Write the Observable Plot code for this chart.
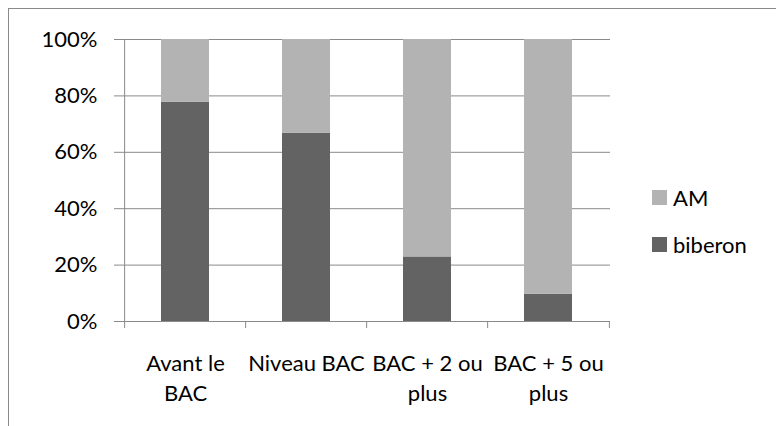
<!DOCTYPE html>
<html><head><meta charset="utf-8">
<script src="https://cdn.jsdelivr.net/npm/d3@7"></script>
<script src="https://cdn.jsdelivr.net/npm/@observablehq/plot@0.6"></script>
<style>
body{margin:0;background:#fff;}
#wrap{position:relative;width:776px;height:426px;overflow:hidden;font-family:Lato,"Open Sans",sans-serif;}
#frame{position:absolute;left:8px;top:8px;width:900px;height:600px;border:1.5px solid #8a8a8a;box-sizing:border-box;pointer-events:none;}
#chart{position:absolute;left:0;top:0;}
#legend{position:absolute;left:652px;top:174px;font-size:22px;color:#000;}
#legend .item{display:flex;align-items:center;height:47px;}
#legend .sw{width:15px;height:15px;margin-right:6px;}
</style></head>
<body><div id="wrap"><div id="chart"></div><div id="frame"></div><div id="legend"></div></div>
<script>
const categories = ["Avant le BAC", "Niveau BAC", "BAC + 2 ou plus", "BAC + 5 ou plus"];
const categoryLabels = ["Avant le\nBAC", "Niveau BAC", "BAC + 2 ou\nplus", "BAC + 5 ou\nplus"];
const seriesNames = ["biberon", "AM"];
const biberon = [0.778, 0.667, 0.229, 0.097];
const am = [0.222, 0.333, 0.771, 0.903];
const yTicks = [0, 0.2, 0.4, 0.6, 0.8, 1];
const legendOrder = ["AM", "biberon"];
const colors = {AM: "#b3b3b3", biberon: "#636363"};

const W = 776, H = 426, ML = 123, MR = 166, MT = 39, MB = 105;
const step = (W - ML - MR) / categories.length;
const gray = "#8a8a8a";

const data = [];
categories.forEach((c, i) => {
  data.push({category: c, series: "biberon", value: biberon[i]});
  data.push({category: c, series: "AM", value: am[i]});
});

const plot = Plot.plot({
  width: W, height: H,
  marginLeft: ML, marginRight: MR, marginTop: MT, marginBottom: MB,
  style: {fontFamily: "Lato, 'Open Sans', sans-serif", background: "#fff", overflow: "visible"},
  x: {domain: categories, paddingInner: 0.6, paddingOuter: 0.3, axis: null},
  y: {domain: [0, 1], axis: null},
  color: {domain: legendOrder, range: legendOrder.map(s => colors[s])},
  marks: [
    Plot.gridY(yTicks, {stroke: gray, strokeOpacity: 1, strokeWidth: 1}),
    Plot.axisY(yTicks, {label: null, tickSize: 9, tickPadding: 17, stroke: gray, strokeOpacity: 1, fontSize: 22, fill: "#000", tickFormat: d => Math.round(d * 100) + "%"}),
    Plot.barY(data, {x: "category", y: "value", fill: "series", order: seriesNames}),
    Plot.ruleX([categories[0]], {x: d => d, y1: 0, y2: 1, dx: -step / 2, stroke: gray, strokeWidth: 1}),
    Plot.ruleY([0], {stroke: gray, strokeWidth: 1}),
    Plot.ruleX(categories, {x: d => d, y1: 0, y2: 0, insetBottom: -7, dx: -step / 2, stroke: gray}),
    Plot.ruleX([categories[categories.length - 1]], {x: d => d, y1: 0, y2: 0, insetBottom: -7, dx: step / 2, stroke: gray}),
    Plot.text(categories, {x: d => d, text: (d, i) => categoryLabels[i], frameAnchor: "bottom", lineAnchor: "top", dy: 28, lineHeight: 1.36, fontSize: 22, fill: "#000"})
  ]
});
document.getElementById("chart").appendChild(plot);

const legend = document.getElementById("legend");
legendOrder.forEach(s => {
  const it = document.createElement("div");
  it.className = "item";
  it.innerHTML = `<span class="sw" style="background:${colors[s]}"></span><span>${s}</span>`;
  legend.appendChild(it);
});
</script></body></html>
